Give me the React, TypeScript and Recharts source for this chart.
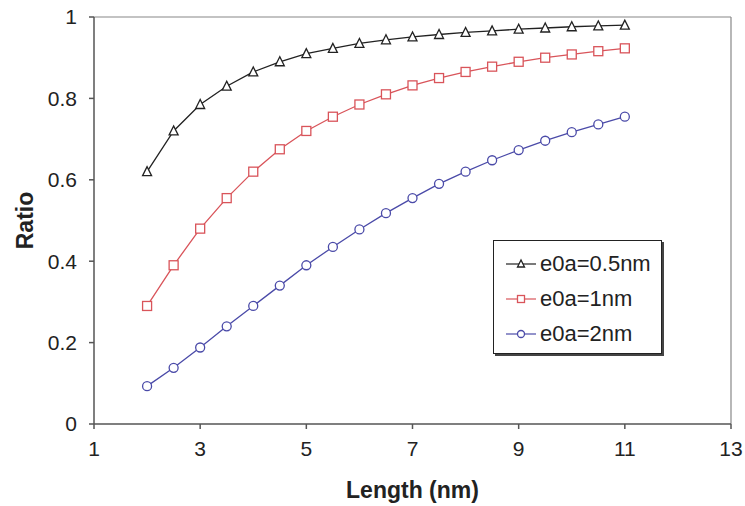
import React from 'react';
import {
  LineChart,
  Line,
  XAxis,
  YAxis,
  ReferenceLine,
} from 'recharts';

const lengths = [2, 2.5, 3, 3.5, 4, 4.5, 5, 5.5, 6, 6.5, 7, 7.5, 8, 8.5, 9, 9.5, 10, 10.5, 11];
const ratioHalf = [0.62, 0.72, 0.785, 0.83, 0.865, 0.89, 0.91, 0.923, 0.935, 0.944, 0.951, 0.957, 0.962, 0.966, 0.97, 0.973, 0.976, 0.978, 0.98];
const ratioOne = [0.29, 0.39, 0.48, 0.555, 0.62, 0.675, 0.72, 0.755, 0.785, 0.81, 0.832, 0.85, 0.865, 0.878, 0.89, 0.9, 0.908, 0.916, 0.923];
const ratioTwo = [0.093, 0.138, 0.188, 0.24, 0.29, 0.34, 0.39, 0.435, 0.478, 0.518, 0.555, 0.59, 0.62, 0.648, 0.673, 0.696, 0.717, 0.736, 0.755];
const xTicks = [1, 3, 5, 7, 9, 11, 13];
const yTicks = [0, 0.2, 0.4, 0.6, 0.8, 1];

const data = lengths.map((len, i) => ({
  len,
  half: ratioHalf[i],
  one: ratioOne[i],
  two: ratioTwo[i],
}));

const FONT = '"Liberation Sans", Arial, sans-serif';
const BLACK = '#222222';
const RED = '#d9545a';
const BLUE = '#4a4aa8';

const series = [
  { key: 'half', name: 'e0a=0.5nm', color: BLACK, shape: 'triangle' },
  { key: 'one', name: 'e0a=1nm', color: RED, shape: 'square' },
  { key: 'two', name: 'e0a=2nm', color: BLUE, shape: 'circle' },
];

function Marker({ cx, cy, shape, color, r = 4.5 }: { cx: number; cy: number; shape: string; color: string; r?: number }) {
  if (cx == null || cy == null) return null;
  if (shape === 'triangle') {
    return (
      <polygon
        points={`${cx},${cy - r - 0.5} ${cx - r},${cy + r - 0.5} ${cx + r},${cy + r - 0.5}`}
        fill="#fff"
        stroke={color}
        strokeWidth={1.3}
      />
    );
  }
  if (shape === 'square') {
    return <rect x={cx - r} y={cy - r} width={2 * r} height={2 * r} fill="#fff" stroke={color} strokeWidth={1.3} />;
  }
  return <circle cx={cx} cy={cy} r={r} fill="#fff" stroke={color} strokeWidth={1.3} />;
}

function LegendBox() {
  return (
    <div
      style={{
        position: 'absolute',
        left: 493,
        top: 240,
        width: 169,
        height: 114,
        boxSizing: 'border-box',
        border: '1px solid #222',
        boxShadow: '2px 2px 0 #444',
        background: '#fff',
        paddingTop: 5,
        paddingLeft: 11,
        fontFamily: FONT,
        fontSize: 22,
        color: '#222',
      }}
    >
      {series.map((s) => (
        <div key={s.key} style={{ display: 'flex', alignItems: 'center', height: 35 }}>
          <svg width={32} height={14} style={{ marginRight: 3 }}>
            <line x1={1} y1={7} x2={31} y2={7} stroke={s.color} strokeWidth={1.2} />
            <Marker cx={16} cy={7} shape={s.shape} color={s.color} r={3.5} />
          </svg>
          <span>{s.name}</span>
        </div>
      ))}
    </div>
  );
}

export default function App() {
  return (
    <div style={{ position: 'absolute', left: 0, top: 0, width: 745, height: 506, background: '#fff' }}>
      <LineChart width={745} height={506} data={data} margin={{ top: 17, right: 14, bottom: 42, left: 0 }}>
        <XAxis
          dataKey="len"
          type="number"
          domain={[1, 13]}
          ticks={xTicks}
          stroke="#555"
          strokeWidth={1.5}
          tickSize={5}
          tickMargin={12}
          height={40}
          tick={{ fill: '#222', fontSize: 21, fontFamily: FONT }}
          label={{
            value: 'Length (nm)',
            position: 'insideBottom',
            offset: -34,
            style: { fill: '#222', fontSize: 23, fontWeight: 'bold', fontFamily: FONT },
          }}
        />
        <YAxis
          type="number"
          domain={[0, 1]}
          ticks={yTicks}
          stroke="#555"
          strokeWidth={1.5}
          tickSize={5}
          tickMargin={12}
          width={94}
          tickFormatter={(v: number) => String(v)}
          tick={{ fill: '#222', fontSize: 21, fontFamily: FONT }}
          label={({ viewBox }: any) => (
            <text
              x={33}
              y={viewBox.y + viewBox.height / 2}
              transform={`rotate(-90, 33, ${viewBox.y + viewBox.height / 2})`}
              textAnchor="middle"
              fill="#222"
              fontSize={23}
              fontWeight="bold"
              fontFamily={FONT}
            >
              Ratio
            </text>
          )}
        />
        <ReferenceLine y={1} stroke="#888" strokeWidth={1.2} />
        <ReferenceLine x={13} stroke="#888" strokeWidth={1.2} />
        {series.map((s) => (
          <Line
            key={s.key}
            dataKey={s.key}
            name={s.name}
            type="linear"
            stroke={s.color}
            strokeWidth={1.3}
            isAnimationActive={false}
            dot={(p: any) => <Marker key={`${s.key}-${p.index}`} cx={p.cx} cy={p.cy} shape={s.shape} color={s.color} />}
          />
        ))}
      </LineChart>
      <LegendBox />
    </div>
  );
}
